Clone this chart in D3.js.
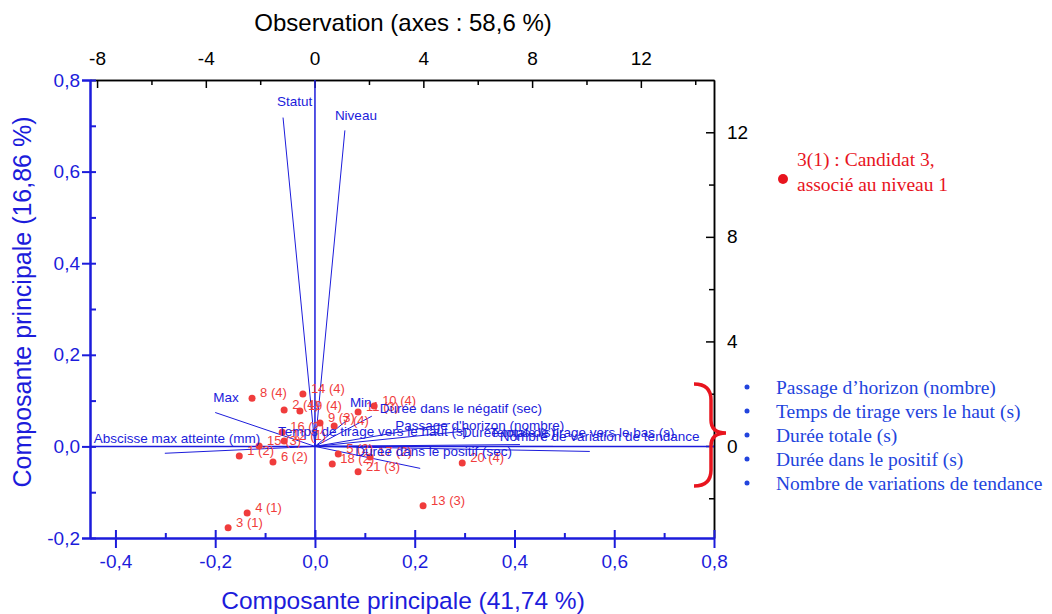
<!DOCTYPE html>
<html>
<head>
<meta charset="utf-8">
<script src="https://cdn.jsdelivr.net/npm/d3@7"></script>
<style>
  body { margin: 0; background: #fff; }
  svg { display: block; font-family: Arial, "Liberation Sans", sans-serif; }
</style>
</head>
<body>
<svg id="chart"></svg>
<script>
// observations (top / right axes)
const obsLabels = ['1 (2)', '2 (4)', '3 (1)', '4 (1)', '5 (2)', '6 (2)', '7 (4)', '8 (4)', '9 (3)', '10 (4)', '11 (3)',
  '12 (1)', '13 (3)', '14 (4)', '15 (3)', '16 (2)', '17 (2)', '18 (2)', '19 (4)', '20 (4)', '21 (3)'];
const obsX = [-2.77, -1.12, -3.18, -2.48, 0.87, -1.53, 0.72, -2.30, 0.20, 2.19, 1.60,
  -1.12, 3.99, -0.43, -2.04, -1.19, 2.04, 0.65, -0.54, 5.43, 1.60];
const obsY = [-0.38, 1.38, -3.13, -2.56, -0.31, -0.61, 0.76, 1.83, 0.88, 1.53, 1.30,
  0.19, -2.29, 1.99, 0.0, 0.53, -0.42, -0.69, 1.34, -0.65, -0.99];

// variable loadings (bottom / left axes)
const varNames = ['Statut', 'Niveau', 'Max', 'Abscisse max atteinte (mm)', 'Min', 'Durée dans le négatif (sec)',
  'Passage d\'horizon (nombre)', 'Temps de tirage vers le haut (s)', 'Durée totale (s)',
  'Temps de tirage vers le bas  (s)', 'Nombre de variation de tendance', 'Durée dans le positif (sec)'];
const varX = [-0.064, 0.060, -0.200, -0.301, 0.064, 0.114, 0.271, 0.297, 0.477, 0.411, 0.551, 0.211];
const varY = [0.718, 0.690, 0.074, -0.015, 0.057, 0.066, 0.050, 0.033, 0.0, 0.004, -0.011, -0.048];

const xTicks = [-0.4, -0.2, 0.0, 0.2, 0.4, 0.6, 0.8];
const xMinor = [-0.3, -0.1, 0.1, 0.3, 0.5, 0.7];
const yTicks = [-0.2, 0.0, 0.2, 0.4, 0.6, 0.8];
const yMinor = [-0.1, 0.1, 0.3, 0.5, 0.7];
const topTicks = [-8, -4, 0, 4, 8, 12];
const topMinor = [-6, -2, 2, 6, 10, 14];
const rightTicks = [0, 4, 8, 12];
const rightMinor = [-2, 2, 6, 10];

const bulletItems = ['Passage d’horizon (nombre)', 'Temps de tirage vers le haut (s)', 'Durée totale (s)',
  'Durée dans le positif (s)', 'Nombre de variations de tendance'];
const noteLines = ['3(1) : Candidat 3,', 'associé au niveau 1'];

// label offsets for the loading texts, in pixels from the arrow end
const varLabelOffset = [[-6, -12], [-10, -10], [-2, -11], [-71, -10], [3, -13], [8, -3],
  [-55, 6], [-185, 5], [-91, -9], [-30, -8], [-90, -10], [-65, -12]];

const width = 1052;
const height = 614;
const blue = '#1c1cdb';
const red = '#f03c3c';
const serif = '"Liberation Serif", "Times New Roman", serif';

const svg = d3.select('#chart')
  .attr('width', width)
  .attr('height', height);

const x = d3.scaleLinear().domain([-0.451, 0.8]).range([90, 714]);
const y = d3.scaleLinear().domain([-0.2, 0.8]).range([538, 80]);
const xTop = d3.scaleLinear().domain([-8.26, 14.69]).range([90, 714]);
const yRight = d3.scaleLinear().domain([-3.52, 14]).range([538, 80]);

const dec = d => d3.format('.1f')(d).replace('.', ',').replace('−', '-');
const int = d => d3.format('d')(d).replace('−', '-');

// top axis (black)
const gTop = svg.append('g').attr('transform', 'translate(0,80)');
gTop.call(d3.axisTop(xTop).tickValues(topTicks).tickFormat(int).tickSizeInner(-8).tickSizeOuter(0).tickPadding(15));
gTop.append('g').call(d3.axisTop(xTop).tickValues(topMinor).tickFormat('').tickSizeInner(-5).tickSizeOuter(0));
gTop.selectAll('path, line').attr('stroke', '#000').attr('stroke-width', 1.5);
gTop.selectAll('text').attr('fill', '#000').style('font-size', '19px');

// right axis (black)
const gRight = svg.append('g').attr('transform', 'translate(714,0)');
gRight.call(d3.axisRight(yRight).tickValues(rightTicks).tickFormat(int).tickSizeInner(-8).tickSizeOuter(0).tickPadding(13));
gRight.append('g').call(d3.axisRight(yRight).tickValues(rightMinor).tickFormat('').tickSizeInner(-5).tickSizeOuter(0));
gRight.selectAll('path, line').attr('stroke', '#000').attr('stroke-width', 1.5);
gRight.selectAll('text').attr('fill', '#000').style('font-size', '19px');

// left axis (blue)
const gLeft = svg.append('g').attr('transform', 'translate(90,0)');
gLeft.call(d3.axisLeft(y).tickValues(yTicks).tickFormat(dec).tickSize(8).tickPadding(2));
gLeft.selectAll('.tick line').attr('x1', 6);
gLeft.append('g').call(d3.axisLeft(y).tickValues(yMinor).tickFormat('').tickSizeInner(-6).tickSizeOuter(0));
gLeft.selectAll('path, line').attr('stroke', blue).attr('stroke-width', 2);
gLeft.selectAll('text').attr('fill', blue).style('font-size', '19px');

// bottom axis (blue)
const gBottom = svg.append('g').attr('transform', 'translate(0,538)');
gBottom.call(d3.axisBottom(x).tickValues(xTicks).tickFormat(dec).tickSize(10).tickSizeOuter(0).tickPadding(7));
gBottom.selectAll('.tick line').attr('y1', -8);
gBottom.append('g').call(d3.axisBottom(x).tickValues(xMinor).tickFormat('').tickSizeInner(-5).tickSizeOuter(0));
gBottom.selectAll('path, line').attr('stroke', blue).attr('stroke-width', 2);
gBottom.selectAll('text').attr('fill', blue).style('font-size', '19px');

// zero lines
svg.append('line')
  .attr('x1', x(-0.451)).attr('x2', x(0.8))
  .attr('y1', y(0)).attr('y2', y(0))
  .attr('stroke', blue).attr('stroke-width', 1.5);
svg.append('line')
  .attr('x1', x(0)).attr('x2', x(0))
  .attr('y1', y(0.8)).attr('y2', y(-0.2))
  .attr('stroke', blue).attr('stroke-width', 1.5);

// loading vectors
svg.append('g').selectAll('line')
  .data(varNames)
  .enter()
  .append('line')
  .attr('x1', x(0)).attr('y1', y(0))
  .attr('x2', (d, i) => x(varX[i]))
  .attr('y2', (d, i) => y(varY[i]))
  .attr('stroke', blue)
  .attr('stroke-width', 1);

// observations
const obs = svg.append('g');
obs.selectAll('circle')
  .data(obsLabels)
  .enter()
  .append('circle')
  .attr('cx', (d, i) => xTop(obsX[i]))
  .attr('cy', (d, i) => yRight(obsY[i]))
  .attr('r', 3.5)
  .attr('fill', red);
obs.selectAll('text')
  .data(obsLabels)
  .enter()
  .append('text')
  .attr('x', (d, i) => xTop(obsX[i]) + 8)
  .attr('y', (d, i) => yRight(obsY[i]) - 1)
  .attr('fill', red)
  .style('font-size', '13px')
  .text(d => d);

// loading labels on top
svg.append('g').selectAll('text')
  .data(varNames)
  .enter()
  .append('text')
  .attr('x', (d, i) => x(varX[i]) + varLabelOffset[i][0])
  .attr('y', (d, i) => y(varY[i]) + varLabelOffset[i][1])
  .attr('fill', blue)
  .style('font-size', '13.5px')
  .text(d => d);

// axis titles
svg.append('text')
  .attr('x', 403).attr('y', 31)
  .attr('text-anchor', 'middle')
  .attr('fill', '#000')
  .style('font-size', '24px')
  .text('Observation (axes : 58,6 %)');
svg.append('text')
  .attr('x', 403).attr('y', 609)
  .attr('text-anchor', 'middle')
  .attr('fill', blue)
  .style('font-size', '24.5px')
  .text('Composante principale (41,74 %)');
svg.append('text')
  .attr('transform', 'translate(31,302) rotate(-90)')
  .attr('text-anchor', 'middle')
  .attr('fill', blue)
  .style('font-size', '25px')
  .text('Composante principale (16,86 %)');

// red brace
svg.append('path')
  .attr('d', 'M694,384 Q711,384 711,400 L711,420 Q711,433 726,433 Q711,433 711,446 L711,470 Q711,486 694,486')
  .attr('fill', 'none')
  .attr('stroke', '#e8141e')
  .attr('stroke-width', 3.5);

// note
svg.append('circle')
  .attr('cx', 783).attr('cy', 179).attr('r', 5)
  .attr('fill', '#e8141e');
svg.append('g').selectAll('text')
  .data(noteLines)
  .enter()
  .append('text')
  .attr('x', 797)
  .attr('y', (d, i) => 166 + i * 25)
  .attr('fill', '#e8141e')
  .style('font-family', serif)
  .style('font-size', '19.5px')
  .text(d => d);

// bullet list
const bullets = svg.append('g')
  .style('font-family', serif)
  .style('font-size', '19.5px')
  .attr('fill', '#2244dd');
bullets.selectAll('circle')
  .data(bulletItems)
  .enter()
  .append('circle')
  .attr('cx', 747)
  .attr('cy', (d, i) => 387 + i * 24)
  .attr('r', 2.5);
bullets.selectAll('text')
  .data(bulletItems)
  .enter()
  .append('text')
  .attr('x', 776)
  .attr('y', (d, i) => 394 + i * 24)
  .text(d => d);
</script>
</body>
</html>
